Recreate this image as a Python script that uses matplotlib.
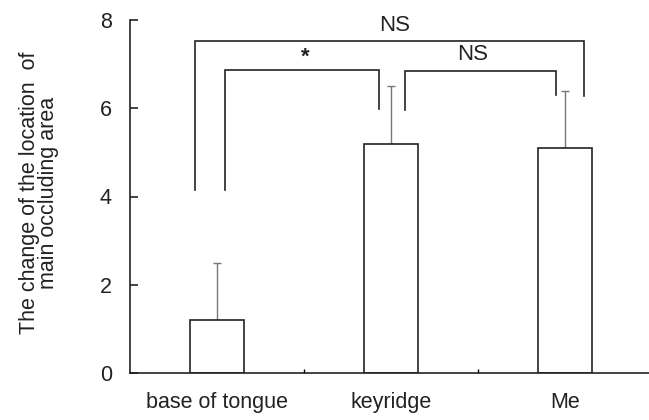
import matplotlib
matplotlib.use("Agg")
import matplotlib.pyplot as plt
from matplotlib.ticker import FixedLocator

categories = ["base of tongue", "keyridge", "Me"]
means = [1.2, 5.2, 5.1]
upper_err = [1.3, 1.3, 1.3]
yticks = [0, 2, 4, 6, 8]

# brackets: (x_left, x_right, y_top, y_left_end, y_right_end, label, label_x)
brackets = [
    (-0.128, 2.11, 7.52, 4.15, 6.27, "NS", 1.02),
    (0.048, 0.933, 6.87, 4.15, 5.99, "*", 0.51),
    (1.079, 1.95, 6.85, 5.96, 6.30, "NS", 1.47),
]

plt.rcParams['font.family'] = ['Liberation Sans', 'DejaVu Sans']
W, H = 649, 420
fig = plt.figure(figsize=(W / 100, H / 100), dpi=100)
ax = fig.add_axes([130 / W, (H - 373) / H, 522 / W, 353 / H])

x = list(range(len(categories)))
ax.bar(x, means, width=0.31, color="white", edgecolor="#222222", linewidth=1.2, zorder=2)
ax.errorbar(x, means, yerr=[[0, 0, 0], upper_err], fmt="none", ecolor="#777777",
            elinewidth=1.0, capsize=3, capthick=1.0, zorder=1)

for xl, xr, yt, yle, yre, lab, lx in brackets:
    ax.plot([xl, xl, xr, xr], [yle, yt, yt, yre], color="#222222", lw=1.2,
            solid_joinstyle="miter", clip_on=False)
    if lab == "*":
        ax.text(lx, yt + 0.05, lab, ha="center", va="bottom", fontsize=16,
                fontweight="bold", color="#222222")
    else:
        ax.text(lx, yt + 0.12, lab, ha="center", va="bottom", fontsize=16, color="#222222")

ax.set_xlim(-0.5, 2.5)
ax.set_ylim(0, 8)
ax.set_yticks(yticks)
ax.tick_params(axis="y", direction="in", length=6, width=1.2, labelsize=15.5, pad=13,
               colors="#222222")
ax.set_xticks(x)
ax.set_xticklabels(categories)
ax.tick_params(axis="x", length=0, labelsize=15.5, pad=14, colors="#222222")
ax.xaxis.set_minor_locator(FixedLocator([0.5, 1.5]))
ax.tick_params(axis="x", which="minor", direction="in", length=3, width=1.0)

for s in ["top", "right"]:
    ax.spines[s].set_visible(False)
for s in ["left", "bottom"]:
    ax.spines[s].set_linewidth(1.2)
    ax.spines[s].set_color("#222222")

fig.text(39 / W, 1 - 193 / H, "The change of the location  of\nmain occluding area",
         rotation=90, ha="center", va="center", fontsize=15.5, color="#222222",
         linespacing=0.85)

fig.savefig("out.png", dpi=100)
